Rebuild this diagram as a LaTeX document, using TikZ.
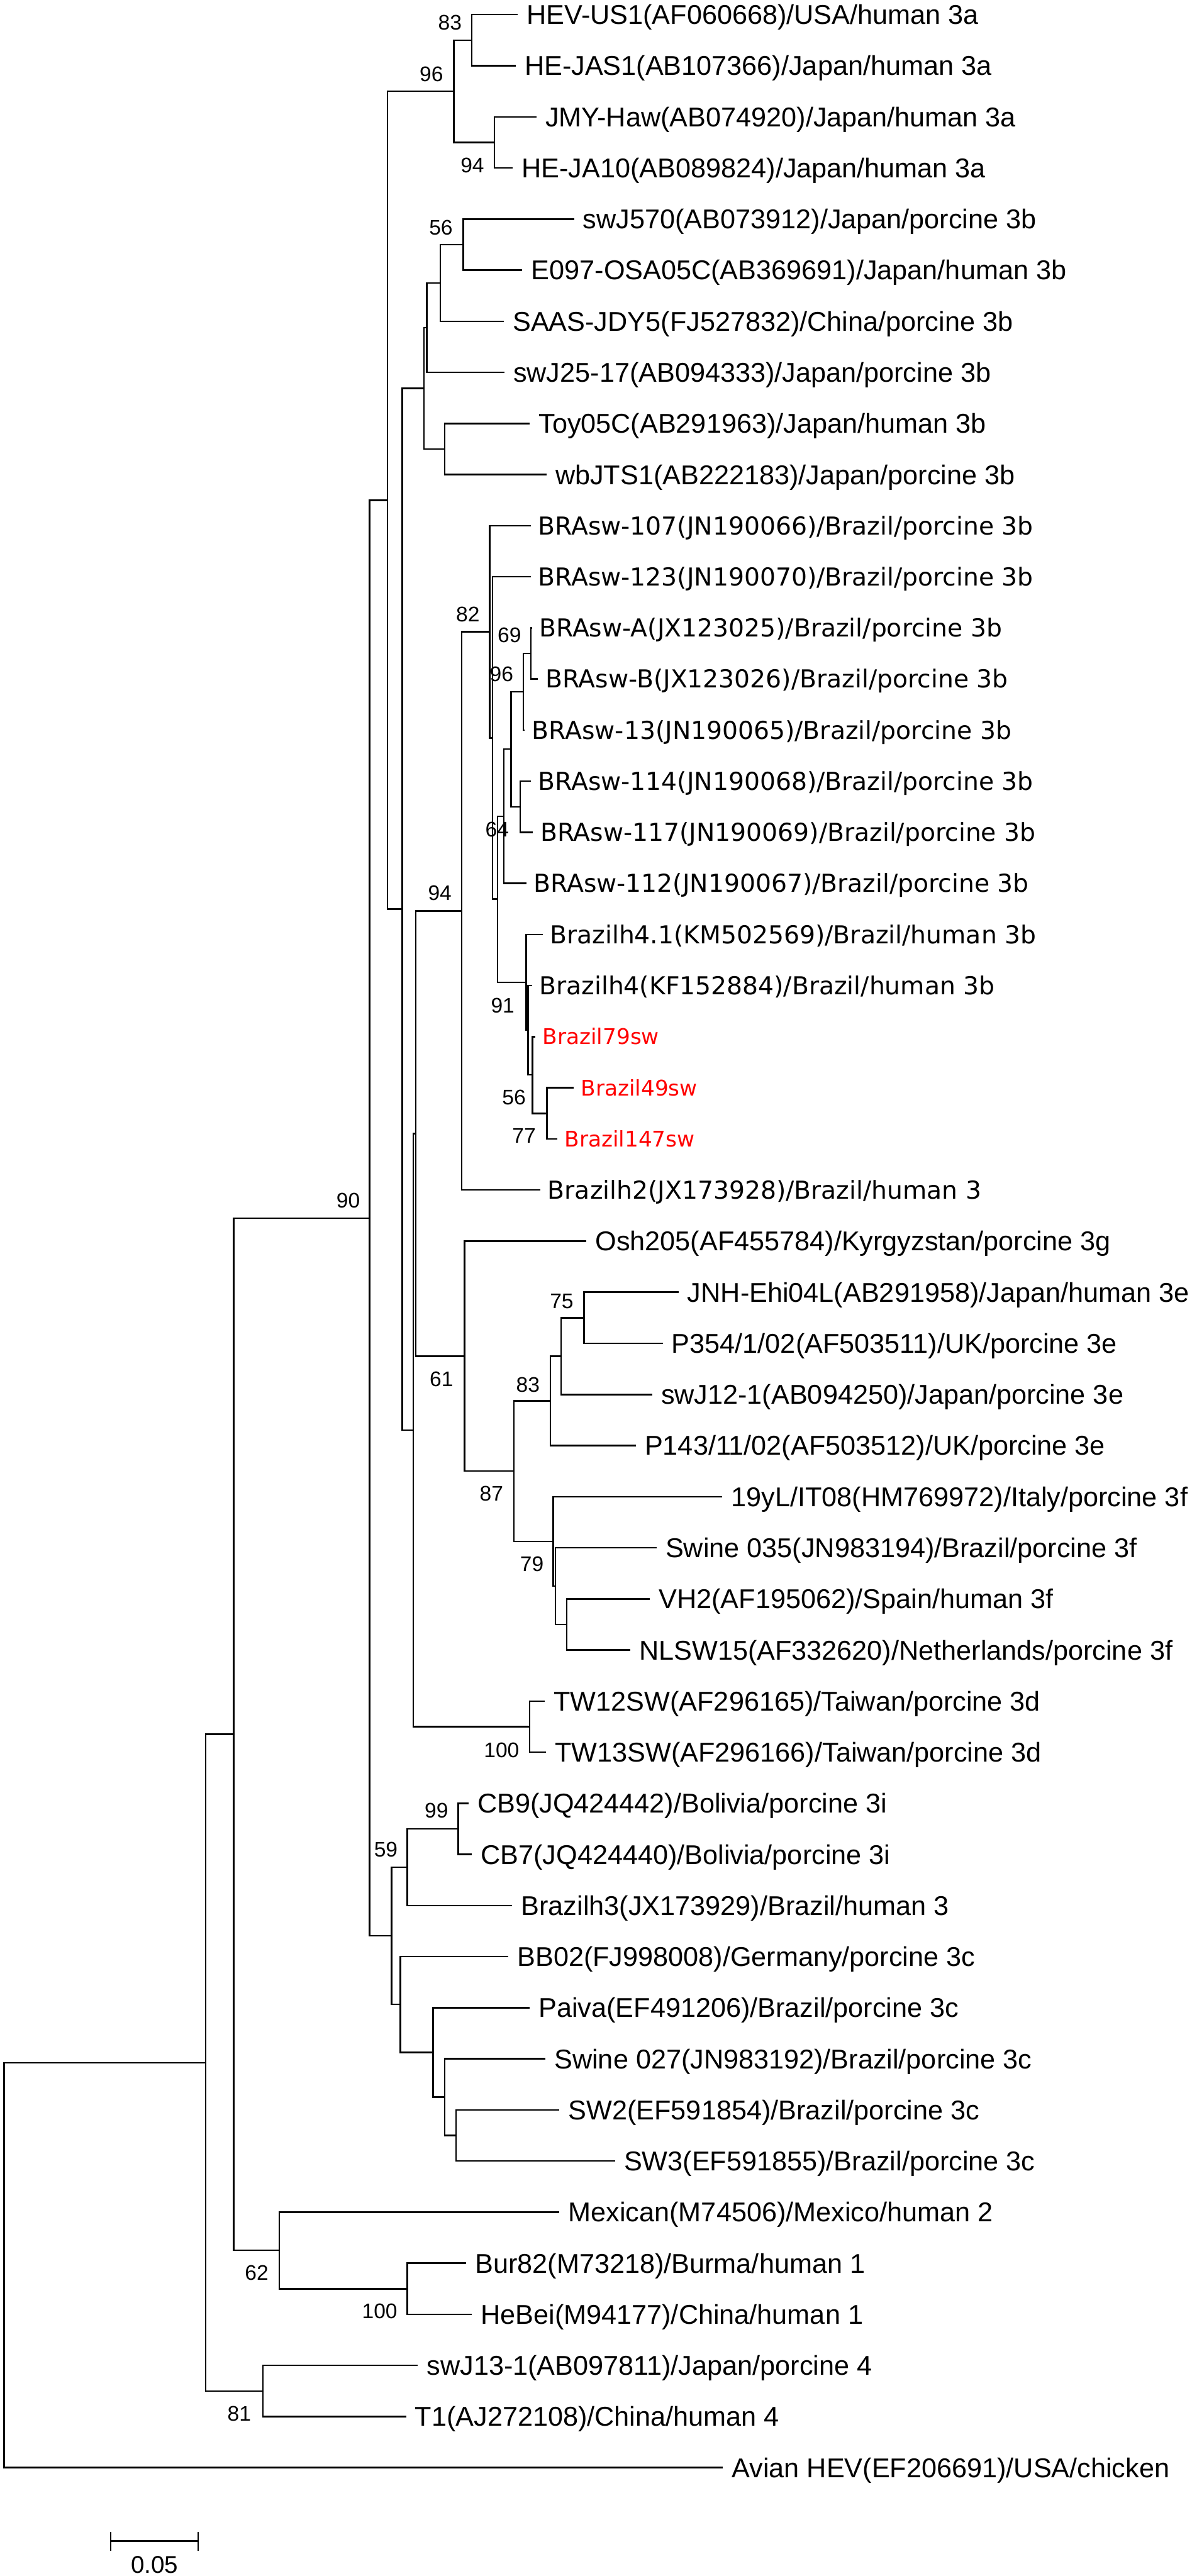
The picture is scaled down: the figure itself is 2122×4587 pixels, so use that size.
\documentclass[tikz,border=0pt]{standalone}
\usepackage{fontspec}
\setmainfont{Liberation Sans}
\newfontfamily\dvfont{DejaVu Sans}
\begin{document}
\begin{tikzpicture}[x=0.25pt,y=-0.25pt,
  branch/.style={line width=0.7pt,black},
  leaflab/.style={anchor=west,inner xsep=3.8pt,inner ysep=0pt,text height=8.66pt,text depth=0pt,font=\fontsize{12.1pt}{14pt}\selectfont},
  bralab/.style={anchor=west,inner xsep=3.1pt,inner ysep=0pt,text height=8.0pt,text depth=0pt,font=\dvfont\fontsize{11pt}{13pt}\selectfont},
  redlab/.style={anchor=west,inner xsep=3.1pt,inner ysep=0pt,text height=7.0pt,text depth=0pt,text=red,font=\dvfont\fontsize{9.6pt}{11pt}\selectfont},
  boot/.style={inner sep=0pt,text height=6.73pt,text depth=0pt,font=\fontsize{9.4pt}{11pt}\selectfont}]
\useasboundingbox (0,0) rectangle (2122,4587);
\fill[white] (0,0) rectangle (2122,4587);

% ---------- leaves ----------
\node[leaflab] (l1) at (922,26) {HEV-US1(AF060668)/USA/human 3a};
\node[leaflab] (l2) at (918,117) {HE-JAS1(AB107366)/Japan/human 3a};
\node[leaflab] (l3) at (955,208) {JMY-Haw(AB074920)/Japan/human 3a};
\node[leaflab] (l4) at (913,299) {HE-JA10(AB089824)/Japan/human 3a};
\node[leaflab] (l5) at (1022,390) {swJ570(AB073912)/Japan/porcine 3b};
\node[leaflab] (l6) at (930,481) {E097-OSA05C(AB369691)/Japan/human 3b};
\node[leaflab] (l7) at (897,572) {SAAS-JDY5(FJ527832)/China/porcine 3b};
\node[leaflab] (l8) at (898,663) {swJ25-17(AB094333)/Japan/porcine 3b};
\node[leaflab] (l9) at (943,754) {Toy05C(AB291963)/Japan/human 3b};
\node[leaflab] (l10) at (973,845) {wbJTS1(AB222183)/Japan/porcine 3b};
\node[bralab] (l11) at (945,936) {BRAsw-107(JN190066)/Brazil/porcine 3b};
\node[bralab] (l12) at (945,1027) {BRAsw-123(JN190070)/Brazil/porcine 3b};
\node[bralab] (l13) at (947,1118) {BRAsw-A(JX123025)/Brazil/porcine 3b};
\node[bralab] (l14) at (958,1209) {BRAsw-B(JX123026)/Brazil/porcine 3b};
\node[bralab] (l15) at (934,1300) {BRAsw-13(JN190065)/Brazil/porcine 3b};
\node[bralab] (l16) at (945,1391) {BRAsw-114(JN190068)/Brazil/porcine 3b};
\node[bralab] (l17) at (949,1482) {BRAsw-117(JN190069)/Brazil/porcine 3b};
\node[bralab] (l18) at (937,1573) {BRAsw-112(JN190067)/Brazil/porcine 3b};
\node[bralab] (l19) at (966,1664) {Brazilh4.1(KM502569)/Brazil/human 3b};
\node[bralab] (l20) at (947,1755) {Brazilh4(KF152884)/Brazil/human 3b};
\node[redlab] (l21) at (953,1846) {Brazil79sw};
\node[redlab] (l22) at (1021,1937) {Brazil49sw};
\node[redlab] (l23) at (992,2028) {Brazil147sw};
\node[bralab] (l24) at (962,2119) {Brazilh2(JX173928)/Brazil/human 3};
\node[leaflab] (l25) at (1044,2210) {Osh205(AF455784)/Kyrgyzstan/porcine 3g};
\node[leaflab] (l26) at (1208,2301) {JNH-Ehi04L(AB291958)/Japan/human 3e};
\node[leaflab] (l27) at (1180,2392) {P354/1/02(AF503511)/UK/porcine 3e};
\node[leaflab] (l28) at (1161,2483) {swJ12-1(AB094250)/Japan/porcine 3e};
\node[leaflab] (l29) at (1132,2574) {P143/11/02(AF503512)/UK/porcine 3e};
\node[leaflab] (l30) at (1286,2665) {19yL/IT08(HM769972)/Italy/porcine 3f};
\node[leaflab] (l31) at (1169,2756) {Swine 035(JN983194)/Brazil/porcine 3f};
\node[leaflab] (l32) at (1157,2847) {VH2(AF195062)/Spain/human 3f};
\node[leaflab] (l33) at (1122,2938) {NLSW15(AF332620)/Netherlands/porcine 3f};
\node[leaflab] (l34) at (970,3029) {TW12SW(AF296165)/Taiwan/porcine 3d};
\node[leaflab] (l35) at (972,3120) {TW13SW(AF296166)/Taiwan/porcine 3d};
\node[leaflab] (l36) at (834,3211) {CB9(JQ424442)/Bolivia/porcine 3i};
\node[leaflab] (l37) at (840,3302) {CB7(JQ424440)/Bolivia/porcine 3i};
\node[leaflab] (l38) at (912,3393) {Brazilh3(JX173929)/Brazil/human 3};
\node[leaflab] (l39) at (905,3484) {BB02(FJ998008)/Germany/porcine 3c};
\node[leaflab] (l40) at (943,3575) {Paiva(EF491206)/Brazil/porcine 3c};
\node[leaflab] (l41) at (971,3666) {Swine 027(JN983192)/Brazil/porcine 3c};
\node[leaflab] (l42) at (996,3757) {SW2(EF591854)/Brazil/porcine 3c};
\node[leaflab] (l43) at (1095,3848) {SW3(EF591855)/Brazil/porcine 3c};
\node[leaflab] (l44) at (996,3939) {Mexican(M74506)/Mexico/human 2};
\node[leaflab] (l45) at (830,4030) {Bur82(M73218)/Burma/human 1};
\node[leaflab] (l46) at (840,4121) {HeBei(M94177)/China/human 1};
\node[leaflab] (l47) at (744,4212) {swJ13-1(AB097811)/Japan/porcine 4};
\node[leaflab] (l48) at (723,4303) {T1(AJ272108)/China/human 4};
\node[leaflab] (l49) at (1287,4394) {Avian HEV(EF206691)/USA/chicken};

% ---------- internal nodes ----------
\coordinate (a83) at (840,71.5);
\coordinate (a94) at (880,253.5);
\coordinate (a96) at (808,162.5);
\coordinate (j56) at (825,435.5);
\coordinate (j784) at (784,503.75);
\coordinate (j760) at (760,583.4);
\coordinate (jtoy) at (792,799.5);
\coordinate (j755) at (755,691.5);
\coordinate (b69) at (945,1163.5);
\coordinate (b933) at (932,1232);
\coordinate (b925) at (926,1436.5);
\coordinate (b910) at (910,1334);
\coordinate (b897) at (897,1453.5);
\coordinate (b77) at (974,1982.5);
\coordinate (b56) at (948,1914);
\coordinate (b940) at (940,1834.5);
\coordinate (b91) at (937,1749);
\coordinate (b886) at (886,1601);
\coordinate (b877) at (877,1314);
\coordinate (b82) at (872,1125);
\coordinate (b94) at (822,1622);
\coordinate (e75) at (1040,2346.5);
\coordinate (e998) at (999,2415);
\coordinate (e83) at (980,2494.5);
\coordinate (fvh) at (1009,2892.5);
\coordinate (f988) at (989,2824);
\coordinate (f79) at (985,2744.5);
\coordinate (e87) at (915,2619.5);
\coordinate (g61) at (827,2415);
\coordinate (m740) at (740,2018.5);
\coordinate (dtw) at (943,3074.5);
\coordinate (m736) at (736,2546.5);
\coordinate (m717) at (716,1619);
\coordinate (m690) at (690,891);
\coordinate (i99) at (816,3256.5);
\coordinate (c59) at (725,3325);
\coordinate (csw) at (812,3802.5);
\coordinate (c792) at (792,3734);
\coordinate (c771) at (771,3654.5);
\coordinate (c713) at (713,3569);
\coordinate (c697) at (697,3447);
\coordinate (m658) at (658,2169);
\coordinate (h100) at (725,4075.5);
\coordinate (h62) at (497,4007);
\coordinate (r415) at (416,3088);
\coordinate (h81) at (468,4257.5);
\coordinate (r366) at (366,3673);
\coordinate (root) at (7,4033.5);

% ---------- branches ----------
\draw[branch] (a83) |- (l1.west) (a83) |- (l2.west);
\draw[branch] (a94) |- (l3.west) (a94) |- (l4.west);
\draw[branch] (a96) |- (a83) (a96) |- (a94);
\draw[branch] (m690) |- (a96) (m690) |- (m717);
\draw[branch] (j56) |- (l5.west) (j56) |- (l6.west);
\draw[branch] (j784) |- (j56) (j784) |- (l7.west);
\draw[branch] (j760) |- (j784) (j760) |- (l8.west);
\draw[branch] (jtoy) |- (l9.west) (jtoy) |- (l10.west);
\draw[branch] (j755) |- (j760) (j755) |- (jtoy);
\draw[branch] (m717) |- (j755) (m717) |- (m736);
\draw[branch] (b69) |- (l13.west) (b69) |- (l14.west);
\draw[branch] (b933) |- (b69) (b933) |- (l15.west);
\draw[branch] (b925) |- (l16.west) (b925) |- (l17.west);
\draw[branch] (b910) |- (b933) (b910) |- (b925);
\draw[branch] (b897) |- (b910) (b897) |- (l18.west);
\draw[branch] (b77) |- (l22.west) (b77) |- (l23.west);
\draw[branch] (b56) |- (l21.west) (b56) |- (b77);
\draw[branch] (b940) |- (l20.west) (b940) |- (b56);
\draw[branch] (b91) |- (l19.west) (b91) |- (b940);
\draw[branch] (b886) |- (b897) (b886) |- (b91);
\draw[branch] (b877) |- (l12.west) (b877) |- (b886);
\draw[branch] (b82) |- (l11.west) (b82) |- (b877);
\draw[branch] (b94) |- (b82) (b94) |- (l24.west);
\draw[branch] (m740) |- (b94) (m740) |- (g61);
\draw[branch] (g61) |- (l25.west) (g61) |- (e87);
\draw[branch] (e87) |- (e83) (e87) |- (f79);
\draw[branch] (e83) |- (e998) (e83) |- (l29.west);
\draw[branch] (e998) |- (e75) (e998) |- (l28.west);
\draw[branch] (e75) |- (l26.west) (e75) |- (l27.west);
\draw[branch] (f79) |- (l30.west) (f79) |- (f988);
\draw[branch] (f988) |- (l31.west) (f988) |- (fvh);
\draw[branch] (fvh) |- (l32.west) (fvh) |- (l33.west);
\draw[branch] (m736) |- (m740) (m736) |- (dtw);
\draw[branch] (dtw) |- (l34.west) (dtw) |- (l35.west);
\draw[branch] (m658) |- (m690) (m658) |- (c697);
\draw[branch] (c697) |- (c59) (c697) |- (c713);
\draw[branch] (c59) |- (i99) (c59) |- (l38.west);
\draw[branch] (i99) |- (l36.west) (i99) |- (l37.west);
\draw[branch] (c713) |- (l39.west) (c713) |- (c771);
\draw[branch] (c771) |- (l40.west) (c771) |- (c792);
\draw[branch] (c792) |- (l41.west) (c792) |- (csw);
\draw[branch] (csw) |- (l42.west) (csw) |- (l43.west);
\draw[branch] (r415) |- (m658) (r415) |- (h62);
\draw[branch] (h62) |- (l44.west) (h62) |- (h100);
\draw[branch] (h100) |- (l45.west) (h100) |- (l46.west);
\draw[branch] (r366) |- (r415) (r366) |- (h81);
\draw[branch] (h81) |- (l47.west) (h81) |- (l48.west);
\draw[branch] (root) |- (r366) (root) |- (l49.west);

% ---------- bootstrap values ----------
\node[boot] (bs1) at (801,40) {83};
\node[boot] (bs2) at (768,132) {96};
\node[boot] (bs3) at (841,294) {94};
\node[boot] (bs4) at (785,405) {56};
\node[boot] (bs5) at (833,1093) {82};
\node[boot] (bs6) at (907,1131) {69};
\node[boot] (bs7) at (893,1200) {96};
\node[boot] (bs8) at (885,1477) {64};
\node[boot] (bs9) at (783,1590) {94};
\node[boot] (bs10) at (895,1790) {91};
\node[boot] (bs11) at (915,1954) {56};
\node[boot] (bs12) at (933,2022) {77};
\node[boot] (bs13) at (620,2137) {90};
\node[boot] (bs14) at (1000,2316) {75};
\node[boot] (bs15) at (786,2455) {61};
\node[boot] (bs16) at (940,2465) {83};
\node[boot] (bs17) at (875,2659) {87};
\node[boot] (bs18) at (947,2785) {79};
\node[boot] (bs19) at (893,3116) {100};
\node[boot] (bs20) at (777,3224) {99};
\node[boot] (bs21) at (687,3293) {59};
\node[boot] (bs22) at (457,4047) {62};
\node[boot] (bs23) at (676,4115) {100};
\node[boot] (bs24) at (426,4297) {81};

% ---------- scale bar ----------
\coordinate (sbL) at (197,4525);
\coordinate (sbR) at (353,4525);
\draw[branch] (sbL) -- (sbR);
\draw[branch] ([yshift=-4.25pt]sbL) -- ([yshift=4.25pt]sbL);
\draw[branch] ([yshift=-4.25pt]sbR) -- ([yshift=4.25pt]sbR);
\node[inner sep=0pt,text height=7.7pt,text depth=0pt,font=\fontsize{10.8pt}{12pt}\selectfont] (sblab) at (275,4567) {0.05};
\end{tikzpicture}
\end{document}
